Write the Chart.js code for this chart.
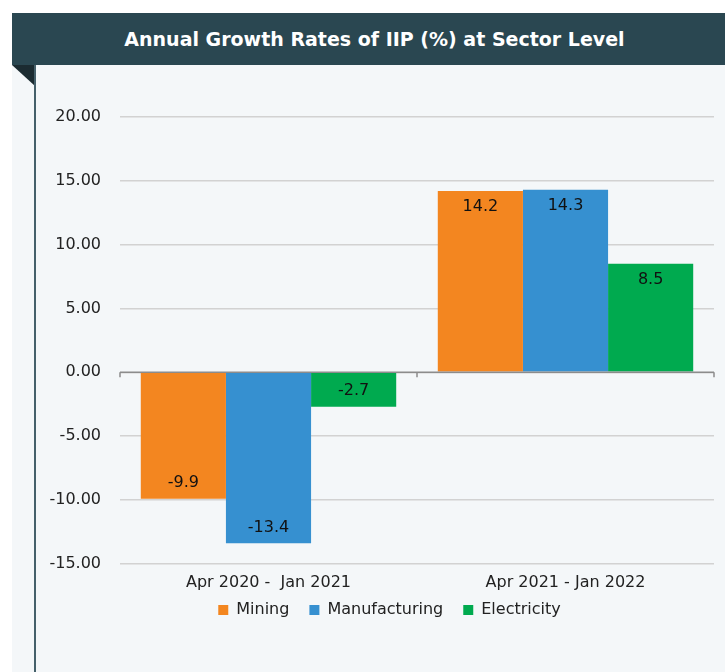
<!DOCTYPE html>
<html>
<head>
<meta charset="utf-8">
<script src="https://cdn.jsdelivr.net/npm/chart.js@4"></script>
<style>
  body { margin: 0; background: #ffffff; width: 725px; height: 672px; overflow: hidden; font-family: "DejaVu Sans", sans-serif; }
  #header { position: absolute; left: 12px; top: 13px; width: 713px; height: 52px; background: #2a4751;
            color: #ffffff; font-weight: bold; font-size: 19px; line-height: 52px; text-align: center;
            box-sizing: border-box; padding-left: 12px; }
  #panel { position: absolute; left: 12px; top: 65px; width: 713px; height: 607px; background: #f4f7f9; }
  #fold { position: absolute; left: 12px; top: 65px; width: 0; height: 0;
          border-top: 21px solid #1b2b31; border-left: 23px solid transparent; }
  #rule { position: absolute; left: 34px; top: 65px; width: 2px; height: 607px; background: #45606a; }
  #wrap { position: absolute; left: 0; top: 0; width: 725px; height: 672px; }
</style>
</head>
<body>
<div id="header">Annual Growth Rates of IIP (%) at Sector Level</div>
<div id="panel"></div>
<div id="fold"></div>
<div id="rule"></div>
<div id="wrap"><canvas id="iipChart"></canvas></div>
<script>
// Data
let periods = ["Apr 2020 -  Jan 2021", "Apr 2021 - Jan 2022"];
let mining = [-9.9, 14.2];
let manufacturing = [-13.4, 14.3];
let electricity = [-2.7, 8.5];

let fontFamily = "'DejaVu Sans', sans-serif";

// nudge the legend so it sits where the original one does
const legendNudge = {
    id: "legendNudge",
    afterLayout(chart) {
        let lg = chart.legend;
        lg.left += 10; lg.right += 10;
        lg.top -= 19; lg.bottom -= 19;
    }
};

// value labels inside the bar ends + the zero line with its little ticks
const barLabels = {
    id: "barLabels",
    afterDatasetsDraw(chart) {
        let ctx = chart.ctx;
        let area = chart.chartArea;
        let y0 = chart.scales.y.getPixelForValue(0);
        ctx.save();
        ctx.strokeStyle = "#8c8c8c";
        ctx.lineWidth = 1.5;
        ctx.beginPath();
        ctx.moveTo(area.left, y0);
        ctx.lineTo(area.right, y0);
        let n = chart.data.labels.length;
        for (let i = 0; i <= n; i++) {
            let x = area.left + (area.right - area.left) * i / n;
            ctx.moveTo(x, y0);
            ctx.lineTo(x, y0 + 5);
        }
        ctx.stroke();

        ctx.fillStyle = "#111111";
        ctx.font = "16px " + fontFamily;
        ctx.textAlign = "center";
        ctx.textBaseline = "middle";
        chart.data.datasets.forEach((ds, i) => {
            chart.getDatasetMeta(i).data.forEach((bar, j) => {
                let v = ds.data[j];
                let y = v >= 0 ? bar.y + 16 : bar.y - 16;
                ctx.fillText(v.toFixed(1), bar.x, y);
            });
        });
        ctx.restore();
    }
};

let ctxIip = document.getElementById("iipChart").getContext("2d");
new Chart(ctxIip, {
    type: "bar",
    data: {
        labels: periods,
        datasets: [
            { label: "Mining", data: mining, backgroundColor: "#f38620" },
            { label: "Manufacturing", data: manufacturing, backgroundColor: "#3690d0" },
            { label: "Electricity", data: electricity, backgroundColor: "#00aa4f" }
        ]
    },
    options: {
        responsive: true,
        maintainAspectRatio: false,
        animation: false,
        layout: { padding: { left: 45, right: 11, top: 117, bottom: 25 } },
        datasets: { bar: { categoryPercentage: 0.86, barPercentage: 1.0 } },
        plugins: {
            tooltip: { enabled: false },
            legend: {
                position: "bottom",
                labels: {
                    boxWidth: 10,
                    boxHeight: 10,
                    padding: 20,
                    color: "#222222",
                    font: { family: fontFamily, size: 16 }
                }
            }
        },
        scales: {
            x: {
                grid: { display: false, drawTicks: false },
                border: { display: false },
                ticks: {
                    padding: 9,
                    color: "#222222",
                    font: { family: fontFamily, size: 16 }
                }
            },
            y: {
                min: -15,
                max: 20,
                afterFit(scale) { scale.width = 75; },
                grid: { color: "#d2d2d2", lineWidth: 1.5, drawTicks: false },
                border: { display: false },
                ticks: {
                    stepSize: 5,
                    padding: 19,
                    color: "#222222",
                    font: { family: fontFamily, size: 16 },
                    callback: v => v.toFixed(2)
                }
            }
        }
    },
    plugins: [barLabels, legendNudge]
});
</script>
</body>
</html>
